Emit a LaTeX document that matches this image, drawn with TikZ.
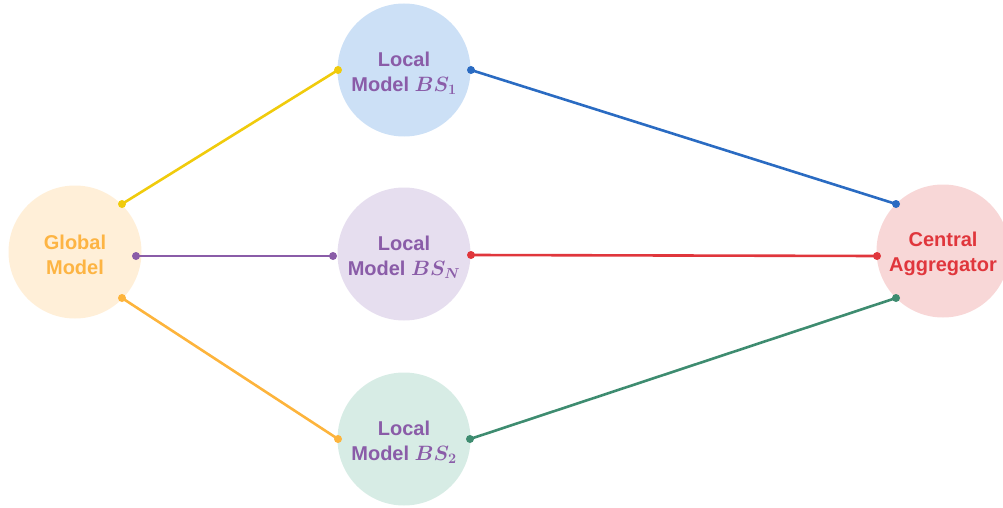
\documentclass[tikz,border=0pt]{standalone}
\usepackage{fontspec}
\setmainfont{Liberation Sans}
\definecolor{cGlobalFill}{HTML}{FFEFD8}
\definecolor{cGlobalText}{HTML}{FDB443}
\definecolor{cBSoneFill}{HTML}{CCE0F6}
\definecolor{cBSnFill}{HTML}{E6DEEF}
\definecolor{cBStwoFill}{HTML}{D7ECE5}
\definecolor{cCentralFill}{HTML}{F8D7D7}
\definecolor{cCentralText}{HTML}{E0363C}
\definecolor{cPurple}{HTML}{8A5CA8}
\definecolor{cYellow}{HTML}{F0CB0C}
\definecolor{cOrange}{HTML}{FDB43C}
\definecolor{cBlue}{HTML}{2A6BC2}
\definecolor{cRed}{HTML}{E0363C}
\definecolor{cGreen}{HTML}{3E8C70}
\tikzset{
  bubble/.style={circle, draw=none, minimum size=133pt, inner sep=0pt},
  caption/.style={align=center, inner sep=0pt, yshift=-3pt,
    font=\fontsize{20}{25}\selectfont\bfseries\boldmath},
  link/.style={line width=2.6pt},
  tip/.style={circle, inner sep=0pt, minimum size=8pt}
}
\begin{document}
\begin{tikzpicture}[x=1pt, y=-1pt]
  \useasboundingbox (0,0) rectangle (1003,508);
  \clip (0,0) rectangle (1003,508);

  % circles
  \node[bubble, fill=cGlobalFill] (global) at (75,252) {};
  \node[bubble, fill=cBSoneFill] (bsone) at (404,70) {};
  \node[bubble, fill=cBSnFill] (bsn) at (404,254) {};
  \node[bubble, fill=cBStwoFill] (bstwo) at (404,439) {};
  \node[bubble, fill=cCentralFill] (central) at (943,251) {};

  % captions
  \node[caption, text=cGlobalText] (globalT) at (global) {Global\\Model};
  \node[caption, text=cPurple] (bsoneT) at (bsone) {Local\\Model $BS_1$};
  \node[caption, text=cPurple] (bsnT) at (bsn) {Local\\Model $BS_N$};
  \node[caption, text=cPurple] (bstwoT) at (bstwo) {Local\\Model $BS_2$};
  \node[caption, text=cCentralText] (centralT) at (central) {Central\\Aggregator};

  % connector end points
  \coordinate (gY) at (122,204);
  \coordinate (gP) at (136,256);
  \coordinate (gO) at (122,298);
  \coordinate (oneL) at (338,70);
  \coordinate (oneR) at (471,70);
  \coordinate (nL) at (333,256);
  \coordinate (nR) at (471,255);
  \coordinate (twoL) at (338,439);
  \coordinate (twoR) at (470,439);
  \coordinate (cB) at (896,204);
  \coordinate (cR) at (877,256);
  \coordinate (cG) at (896,298);

  % connectors
  \draw[link, cYellow] (gY) -- (oneL);
  \draw[link, cPurple] (gP) -- (nL);
  \draw[link, cOrange] (gO) -- (twoL);
  \draw[link, cBlue] (oneR) -- (cB);
  \draw[link, cRed] (nR) -- (cR);
  \draw[link, cGreen] (twoR) -- (cG);

  % end dots
  \foreach \p/\c in {gY/cYellow, oneL/cYellow, gP/cPurple, nL/cPurple, gO/cOrange, twoL/cOrange,
                     oneR/cBlue, cB/cBlue, nR/cRed, cR/cRed, twoR/cGreen, cG/cGreen}
    \node[tip, fill=\c] at (\p) {};
\end{tikzpicture}
\end{document}
